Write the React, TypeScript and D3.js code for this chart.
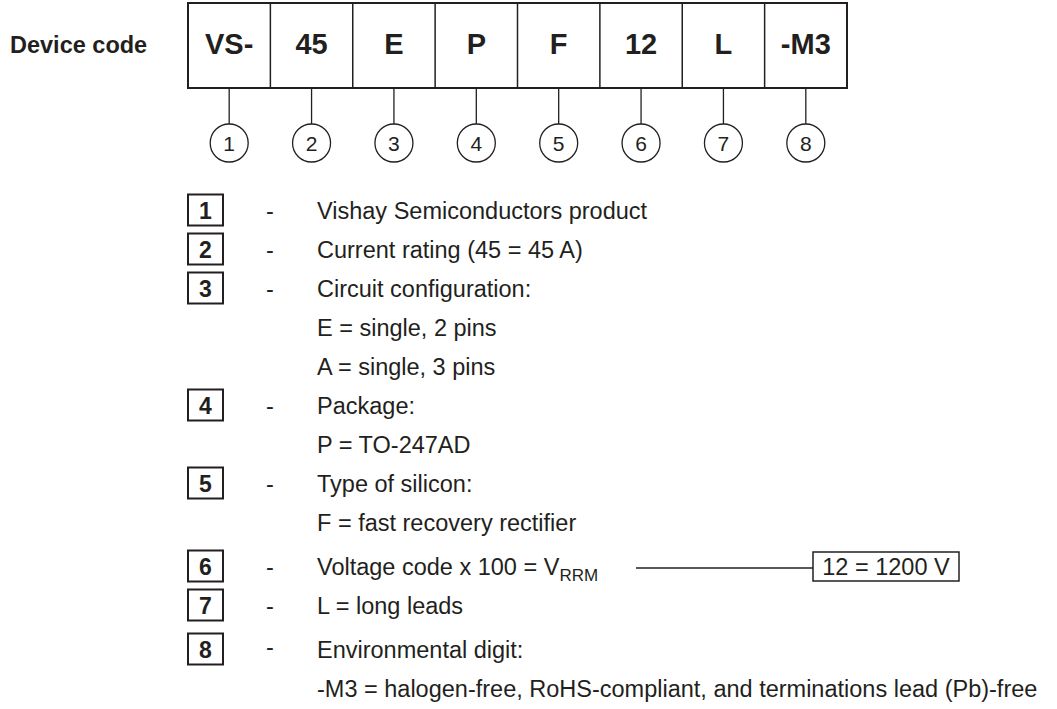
import * as d3 from 'd3'

const codeSegments = ['VS-', '45', 'E', 'P', 'F', '12', 'L', '-M3']
const itemNumbers = ['1', '2', '3', '4', '5', '6', '7', '8']
const itemLabels = [
  'Vishay Semiconductors product',
  'Current rating (45 = 45 A)',
  'Circuit configuration:',
  'Package:',
  'Type of silicon:',
  'Voltage code x 100 = V',
  'L = long leads',
  'Environmental digit:',
]
const itemDetails = [
  [],
  [],
  ['E = single, 2 pins', 'A = single, 3 pins'],
  ['P = TO-247AD'],
  ['F = fast recovery rectifier'],
  [],
  [],
  ['-M3 = halogen-free, RoHS-compliant, and terminations lead (Pb)-free'],
]
const subscriptLabel = 'RRM'
const voltageExample = '12 = 1200 V'
const widerGapBefore = ['6', '8']

const W = 1057
const H = 709
const ink = '#231f20'
const font = 'Liberation Sans, Arial, Helvetica, sans-serif'

type Line = { kind: 'item' | 'detail'; idx: number; text: string; y: number }

export default function App() {
  const x = d3.scaleBand<string>().domain(codeSegments).range([188, 847])
  const boxTop = 3
  const boxBottom = 88
  const circleY = 143
  const r = 19

  // stack the list lines, items and their detail lines
  const step = 39
  const lines: Line[] = []
  let y = 210
  itemNumbers.forEach((n, i) => {
    if (lines.length) y += step
    if (widerGapBefore.includes(n)) y += 5
    lines.push({ kind: 'item', idx: i, text: itemLabels[i], y })
    itemDetails[i].forEach((d) => {
      y += step
      lines.push({ kind: 'detail', idx: i, text: d, y })
    })
  })

  const numX = 188
  const numW = 35
  const numH = 31
  const dashX = 270
  const textX = 317
  const fs = 23.5

  return (
    <svg
      width={W}
      height={H}
      style={{ position: 'absolute', left: 0, top: 0, background: '#fff' }}
      fontFamily={font}
    >
      <text x={10} y={53} fontSize={23.5} fontWeight="bold" fill={ink}>
        Device code
      </text>

      {/* code box */}
      <rect
        x={x.range()[0]}
        y={boxTop}
        width={x.range()[1] - x.range()[0]}
        height={boxBottom - boxTop}
        fill="none"
        stroke={ink}
        strokeWidth={2}
      />
      {codeSegments.map((s, i) => {
        const x0 = x(s)!
        const cx = x0 + x.bandwidth() / 2
        return (
          <g key={s}>
            {i > 0 && (
              <line x1={x0} x2={x0} y1={boxTop} y2={boxBottom} stroke={ink} strokeWidth={1.5} />
            )}
            <text x={cx} y={54} textAnchor="middle" fontSize={29} fontWeight="bold" fill={ink}>
              {s}
            </text>
            <line x1={cx} x2={cx} y1={boxBottom} y2={circleY - r} stroke={ink} strokeWidth={1.3} />
            <circle cx={cx} cy={circleY} r={r} fill="none" stroke={ink} strokeWidth={1.3} />
            <text x={cx} y={circleY + 7.5} textAnchor="middle" fontSize={21} fill={ink}>
              {itemNumbers[i]}
            </text>
          </g>
        )
      })}

      {/* explanation list */}
      {lines.map((l) => {
        const base = l.y + 8.5
        if (l.kind === 'detail') {
          return (
            <text key={l.text} x={textX} y={base} fontSize={fs} fill={ink}>
              {l.text}
            </text>
          )
        }
        const n = itemNumbers[l.idx]
        const isVoltage = n === '6'
        return (
          <g key={n}>
            <rect
              x={numX}
              y={l.y - numH / 2}
              width={numW}
              height={numH}
              fill="none"
              stroke={ink}
              strokeWidth={2}
            />
            <text
              x={numX + numW / 2}
              y={base}
              textAnchor="middle"
              fontSize={23}
              fontWeight="bold"
              fill={ink}
            >
              {n}
            </text>
            <text x={dashX} y={n === '8' ? base - 3 : base} textAnchor="middle" fontSize={fs} fill={ink}>
              -
            </text>
            <text x={textX} y={base} fontSize={fs} fill={ink}>
              {l.text}
              {isVoltage && (
                <tspan fontSize={17} dy={6}>
                  {subscriptLabel}
                </tspan>
              )}
            </text>
            {isVoltage && (
              <g>
                <line x1={636} x2={813} y1={l.y + 2} y2={l.y + 2} stroke={ink} strokeWidth={1.3} />
                <rect
                  x={813}
                  y={l.y - 14}
                  width={146}
                  height={29}
                  fill="none"
                  stroke={ink}
                  strokeWidth={1.5}
                />
                <text x={886} y={base} textAnchor="middle" fontSize={fs} fill={ink}>
                  {voltageExample}
                </text>
              </g>
            )}
          </g>
        )
      })}
    </svg>
  )
}
